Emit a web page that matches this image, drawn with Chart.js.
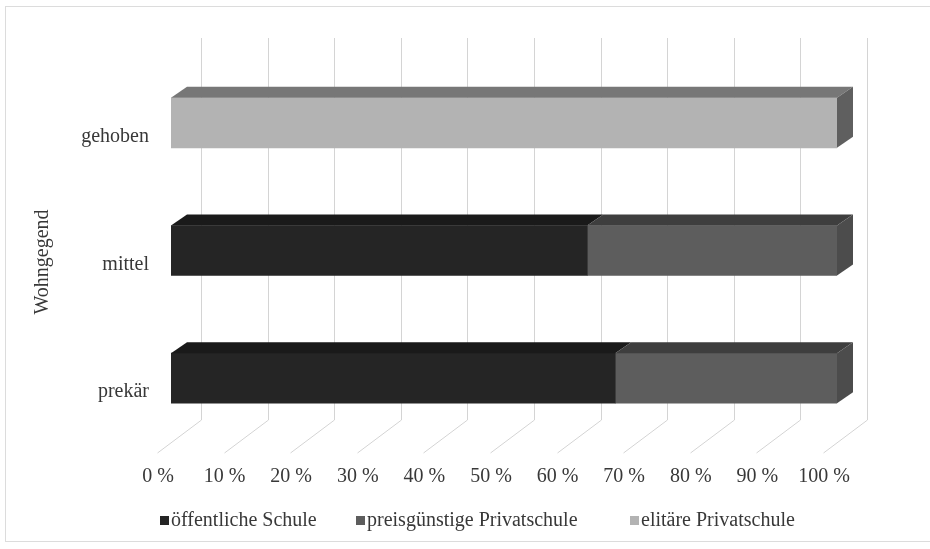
<!DOCTYPE html>
<html>
<head>
<meta charset="utf-8">
<script src="https://cdn.jsdelivr.net/npm/chart.js@4/dist/chart.umd.min.js"></script>
<style>
  html, body { margin: 0; padding: 0; background: #fff; }
  #wrap { position: relative; width: 930px; height: 549px; }
  #frame { position: absolute; left: 5px; top: 6px; width: 930px; height: 536px; border: 1px solid #dcdcdc; box-sizing: border-box; pointer-events: none; }
  canvas { position: absolute; left: 0; top: 0; }
</style>
</head>
<body>
<div id="wrap">
  <canvas id="c" width="930" height="549"></canvas>
  <div id="frame"></div>
</div>
<script>
// Data (shares in %)
const CATEGORIES = ['gehoben', 'mittel', 'prekär'];
const OEFFENTLICH = [0, 62.5, 66.7];
const PREISGUENSTIG = [0, 37.5, 33.3];
const ELITAER = [100, 0, 0];
const X_TICKS = [0, 10, 20, 30, 40, 50, 60, 70, 80, 90, 100];
const AXIS_TITLE = 'Wohngegend';

const FONT = "'Liberation Serif', 'Times New Roman', serif";
const TEXT_COLOR = '#383838';

// face colours: front / top / side
const SERIES = [
  { label: 'öffentliche Schule',         data: OEFFENTLICH,   front: '#252525', top: '#1a1a1a', side: '#1f1f1f' },
  { label: 'preisgünstige Privatschule', data: PREISGUENSTIG, front: '#5d5d5d', top: '#3e3e3e', side: '#4c4c4c' },
  { label: 'elitäre Privatschule',       data: ELITAER,       front: '#b3b3b3', top: '#777777', side: '#5f5f5f' }
];

// 3D depth of a bar, and of the floor/back wall
const BAR_DX = 16, BAR_DY = 11;
const WALL_DX = 30, FLOOR_DX = 14;
const WALL_TOP = 38, WALL_BOTTOM = 420, FLOOR_Y = 453;

const box3d = {
  id: 'box3d',
  beforeDatasetsDraw(chart) {
    const ctx = chart.ctx, x = chart.scales.x, y = chart.scales.y;
    ctx.save();
    ctx.strokeStyle = '#d4d4d4';
    ctx.lineWidth = 1;
    X_TICKS.forEach(v => {
      const px = Math.round(x.getPixelForValue(v)) + 0.5;
      ctx.beginPath();
      ctx.moveTo(px + WALL_DX, WALL_TOP);
      ctx.lineTo(px + WALL_DX, WALL_BOTTOM);
      ctx.lineTo(px - FLOOR_DX, FLOOR_Y);
      ctx.stroke();
    });
    // x tick labels
    ctx.fillStyle = TEXT_COLOR;
    ctx.font = '20px ' + FONT;
    ctx.textAlign = 'center';
    ctx.textBaseline = 'middle';
    X_TICKS.forEach(v => {
      ctx.fillText(v + ' %', x.getPixelForValue(v) - FLOOR_DX + 1, 477);
    });
    // category labels (Excel puts them on the front edge of the floor, a bit low)
    ctx.textAlign = 'right';
    CATEGORIES.forEach((c, i) => {
      ctx.fillText(c, 149, y.getPixelForValue(i) + 14);
    });
    // axis title
    ctx.save();
    ctx.translate(43, 262);
    ctx.rotate(-Math.PI / 2);
    ctx.textAlign = 'center';
    ctx.fillText(AXIS_TITLE, 0, 0);
    ctx.restore();
    ctx.restore();
  },
  afterDatasetsDraw(chart) {
    const ctx = chart.ctx;
    ctx.save();
    CATEGORIES.forEach((c, i) => {
      let last = null;
      SERIES.forEach((s, si) => {
        const el = chart.getDatasetMeta(si).data[i];
        if (!s.data[i]) return;
        const l = Math.min(el.base, el.x), r = Math.max(el.base, el.x);
        const t = el.y - el.height / 2;
        ctx.fillStyle = s.top;
        ctx.beginPath();
        ctx.moveTo(l, t);
        ctx.lineTo(l + BAR_DX, t - BAR_DY);
        ctx.lineTo(r + BAR_DX, t - BAR_DY);
        ctx.lineTo(r, t);
        ctx.closePath();
        ctx.fill();
        last = { el, s, r, t };
      });
      if (last) {
        const b = last.t + last.el.height;
        ctx.fillStyle = last.s.side;
        ctx.beginPath();
        ctx.moveTo(last.r, last.t);
        ctx.lineTo(last.r + BAR_DX, last.t - BAR_DY);
        ctx.lineTo(last.r + BAR_DX, b - BAR_DY);
        ctx.lineTo(last.r, b);
        ctx.closePath();
        ctx.fill();
      }
    });
    // legend
    const items = [[160, 0], [356, 1], [630, 2]];
    ctx.font = '20px ' + FONT;
    ctx.textAlign = 'left';
    ctx.textBaseline = 'middle';
    items.forEach(([lx, si]) => {
      ctx.fillStyle = SERIES[si].front;
      ctx.fillRect(lx, 516, 9, 9);
      ctx.fillStyle = TEXT_COLOR;
      ctx.fillText(SERIES[si].label, lx + 11, 521);
    });
    ctx.restore();
  }
};

new Chart(document.getElementById('c'), {
  type: 'bar',
  data: {
    labels: CATEGORIES,
    datasets: SERIES.map(s => ({
      label: s.label,
      data: s.data,
      // zero-width segments would otherwise leave a hairline
      backgroundColor: ctx => (ctx.raw ? s.front : 'rgba(0,0,0,0)'),
      borderWidth: 0,
      barThickness: 50
    }))
  },
  options: {
    indexAxis: 'y',
    responsive: false,
    animation: false,
    layout: { padding: { left: 171, right: 93, top: 59, bottom: 107 } },
    plugins: { legend: { display: false }, tooltip: { enabled: false } },
    scales: {
      x: { stacked: true, min: 0, max: 100, display: false },
      y: { stacked: true, display: false }
    }
  },
  plugins: [box3d]
});
</script>
</body>
</html>
